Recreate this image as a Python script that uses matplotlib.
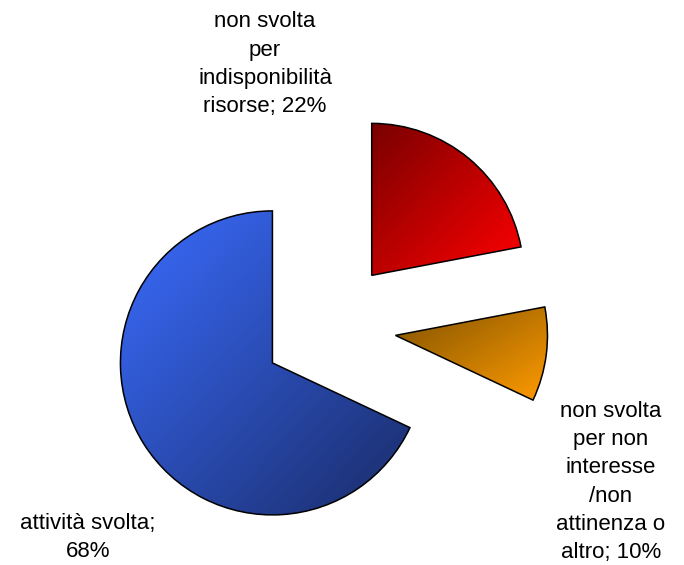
import numpy as np
import matplotlib
matplotlib.use("Agg")
import matplotlib.pyplot as plt
from matplotlib.colors import LinearSegmentedColormap

plt.rcParams['font.family'] = ['Liberation Sans', 'DejaVu Sans']

# Data (order drawn counter-clockwise from 12 o'clock)
labels = ["attività svolta;\n68%",
          "non svolta\nper non\ninteresse\n/non\nattinenza o\naltro; 10%",
          "non svolta\nper\nindisponibilità\nrisorse; 22%"]
values = [68, 10, 22]
grad_start = ["#3a6cff", "#7e5200", "#7a0000"]   # top-left colour of each slice
grad_end = ["#1a2c68", "#ff9a00", "#ff0000"]     # bottom-right colour
label_pos = [(88, 557), (611, 558), (265, 112)]  # last-line baseline, image pixels

W, H = 684, 565
fig = plt.figure(figsize=(W / 100, H / 100), dpi=100)
ax = fig.add_axes([0, 0, 1, 1])

wedges, _ = ax.pie(values, radius=152, center=(329, 238), startangle=90,
                   counterclock=True, explode=[67] * 3,
                   wedgeprops=dict(edgecolor="black", linewidth=1.1, facecolor="none"))
ax.set_xlim(0, W)
ax.set_ylim(0, H)
ax.set_aspect("equal")
ax.axis("off")

n = 200
ii, jj = np.mgrid[0:n, 0:n]
t = (ii + jj) / (2 * (n - 1))
for w, c0, c1 in zip(wedges, grad_start, grad_end):
    w.set_zorder(3)
    ext = w.get_path().get_extents()
    cmap = LinearSegmentedColormap.from_list("g", [c0, c1])
    im = ax.imshow(t, cmap=cmap, origin="upper", interpolation="bilinear",
                   extent=(ext.x0, ext.x1, ext.y0, ext.y1), zorder=2, aspect="auto")
    im.set_clip_path(w)

ax.set_xlim(0, W)
ax.set_ylim(0, H)

for txt, (x, y) in zip(labels, label_pos):
    ax.text(x, H - y, txt, ha="center", va="baseline",
            fontsize=16, linespacing=1.45, color="black")

fig.savefig("out.png", dpi=100)
